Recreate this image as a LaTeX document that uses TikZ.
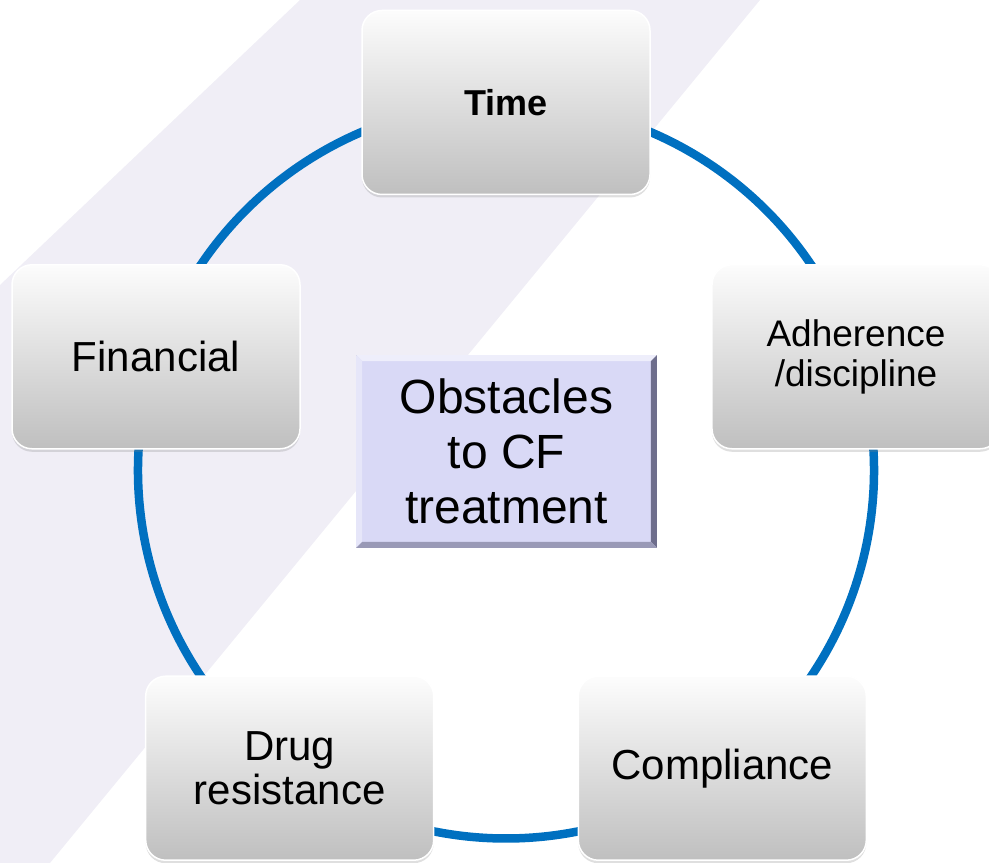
\documentclass[tikz,border=0pt]{standalone}
\usepackage{fontspec}
\setmainfont{Liberation Sans}
\usetikzlibrary{calc, shapes, arrows, shadows, backgrounds}
\definecolor{ringblue}{HTML}{0070C0}
\definecolor{bandlilac}{HTML}{F0EEF6}
\definecolor{hubfill}{HTML}{D9D9F6}
\definecolor{hubedge}{HTML}{6E6E8C}

\begin{document}
\begin{tikzpicture}[x=1pt,y=1pt]
\tikzstyle{obstacle}=[rectangle,rounded corners=20pt,minimum width=288pt,minimum height=184pt,top color=black!1,bottom color=black!25,draw=white,line width=1.5pt,align=center,drop shadow={shadow xshift=0pt,shadow yshift=-3pt,opacity=.25}]
\tikzstyle{hub}=[rectangle,fill=hubfill,draw=black!40,line width=.8pt,minimum width=300pt,minimum height=192pt,align=center,font=\fontsize{48}{55}\selectfont]
\tikzstyle{ring}=[draw=ringblue,line width=8.5pt]
\clip (0,0) rectangle (989,863);
\coordinate (O) at (506,392.5);
\node[obstacle,font=\fontsize{36}{40}\selectfont\bfseries] (time) at ($(O)+(90:368)$) {Time};
\node[obstacle,font=\fontsize{37}{40}\selectfont] (adh) at ($(O)+(18:368)$) {Adherence\\/discipline};
\node[obstacle,font=\fontsize{42}{44}\selectfont] (comp) at ($(O)+(-54:368)$) {Compliance};
\node[obstacle,font=\fontsize{42}{44}\selectfont] (drug) at ($(O)+(234:368)$) {Drug\\resistance};
\node[obstacle,font=\fontsize{42}{44}\selectfont] (fin) at ($(O)+(162:368)$) {Financial};
\node[hub] (hub) at (506.5,411.5) {Obstacles\\to CF\\treatment};
\fill[white!55!hubfill] (hub.north west) -- (hub.north east) -- ([shift={(-6,-6)}]hub.north east) -- ([shift={(6,-6)}]hub.north west) -- cycle;
\fill[white!35!hubfill] (hub.north west) -- (hub.south west) -- ([shift={(6,6)}]hub.south west) -- ([shift={(6,-6)}]hub.north west) -- cycle;
\fill[hubedge] (hub.north east) -- (hub.south east) -- ([shift={(-6,6)}]hub.south east) -- ([shift={(-6,-6)}]hub.north east) -- cycle;
\fill[hubedge!60!hubfill] (hub.south east) -- (hub.south west) -- ([shift={(6,6)}]hub.south west) -- ([shift={(-6,6)}]hub.south east) -- cycle;
\begin{scope}[on background layer]
\fill[bandlilac] (300,863) -- (760,863) -- (50,0) -- (0,0) -- (0,578) -- cycle;
\draw[ring] (time.center) arc[start angle=90,end angle=18,radius=368];
\draw[ring] (adh.center) arc[start angle=18,end angle=-54,radius=368];
\draw[ring] (comp.center) arc[start angle=-54,end angle=-126,radius=368];
\draw[ring] (drug.center) arc[start angle=234,end angle=162,radius=368];
\draw[ring] (fin.center) arc[start angle=162,end angle=90,radius=368];
\end{scope}
\end{tikzpicture}
\end{document}
